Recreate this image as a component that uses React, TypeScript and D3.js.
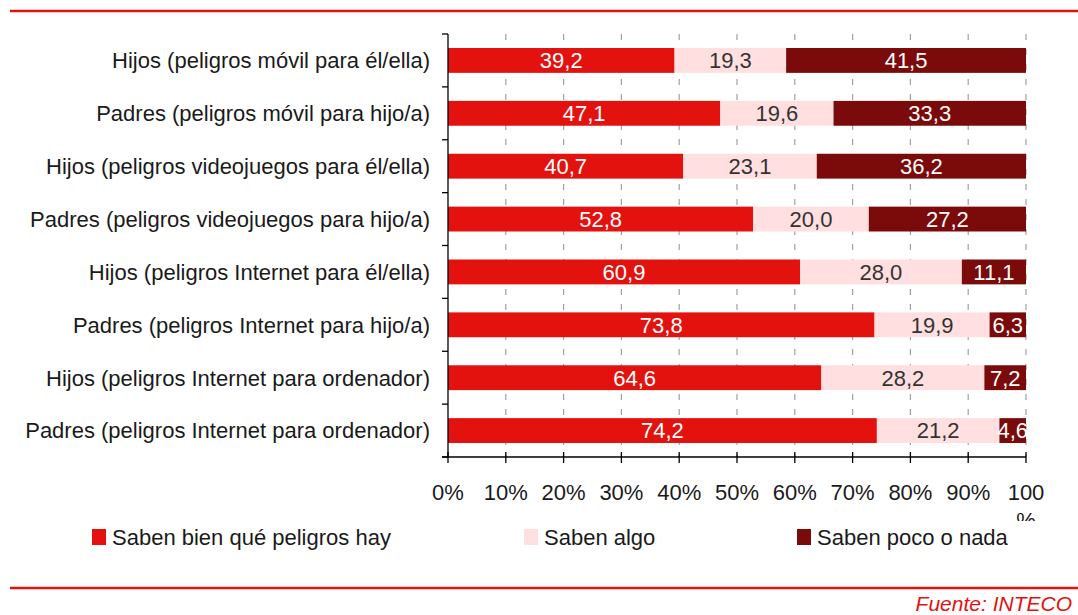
import React from "react";
import * as d3 from "d3";

const categories = [
  "Hijos (peligros móvil para él/ella)",
  "Padres (peligros móvil para hijo/a)",
  "Hijos (peligros videojuegos para él/ella)",
  "Padres (peligros videojuegos para hijo/a)",
  "Hijos (peligros Internet para él/ella)",
  "Padres (peligros Internet para hijo/a)",
  "Hijos (peligros Internet para ordenador)",
  "Padres (peligros Internet para ordenador)",
];
const seriesNames = ["Saben bien qué peligros hay", "Saben algo", "Saben poco o nada"];
const sabenBien = [39.2, 47.1, 40.7, 52.8, 60.9, 73.8, 64.6, 74.2];
const sabenAlgo = [19.3, 19.6, 23.1, 20.0, 28.0, 19.9, 28.2, 21.2];
const sabenPoco = [41.5, 33.3, 36.2, 27.2, 11.1, 6.3, 7.2, 4.6];
const xTicks = [0, 10, 20, 30, 40, 50, 60, 70, 80, 90, 100];

const colors = ["#e3120f", "#ffdfdf", "#7b0a0a"];
const labelColors = ["#ffffff", "#333333", "#ffffff"];
const FONT = "'Liberation Sans', Arial, sans-serif";

export default function App() {
  const W = 1078, H = 615;
  const x = d3.scaleLinear().domain([0, 100]).range([448, 1026]);
  const y = d3.scaleBand<string>().domain(categories).range([34, 457]).paddingInner(0.53).paddingOuter(0.265);
  const rows = categories.map((c, i) => ({ c, vals: [sabenBien[i], sabenAlgo[i], sabenPoco[i]] }));
  const stacked = rows.map((r) => {
    let acc = 0;
    return r.vals.map((v) => {
      const s = acc;
      acc += v;
      return { s, e: acc, v };
    });
  });
  const step = y.step();
  const bounds = d3.range(categories.length + 1).map((i) => 34 + i * step);
  const fmt = (v: number) => v.toFixed(1).replace(".", ",");
  const legendX = [92, 524, 797];

  return (
    <div style={{ position: "absolute", left: 0, top: 0 }}>
      <svg width={W} height={H} style={{ display: "block", fontFamily: FONT }}>
        <rect width={W} height={H} fill="#fff" />
        <line x1={10} x2={W} y1={11} y2={11} stroke="#e3120f" strokeWidth={2.5} />
        {/* gridlines */}
        {xTicks.slice(1).map((t) => (
          <line key={t} x1={x(t)} x2={x(t)} y1={34} y2={457} stroke="#a0a0a0" strokeWidth={1.2} strokeDasharray="6,9" />
        ))}
        {/* bars */}
        {rows.map((r, i) =>
          stacked[i].map((seg, j) => (
            <g key={i + "-" + j}>
              <rect x={x(seg.s)} y={y(r.c)} width={x(seg.e) - x(seg.s)} height={y.bandwidth()} fill={colors[j]} />
              <text
                x={(x(seg.s) + x(seg.e)) / 2}
                y={(y(r.c) as number) + y.bandwidth() / 2}
                dy="0.36em"
                textAnchor="middle"
                fontSize={22}
                fill={labelColors[j]}
              >
                {fmt(seg.v)}
              </text>
            </g>
          ))
        )}
        {/* y axis */}
        <line x1={448} x2={448} y1={34} y2={457} stroke="#000" strokeWidth={1.3} />
        {bounds.map((b, i) => (
          <line key={i} x1={442} x2={448} y1={b} y2={b} stroke="#000" strokeWidth={1.3} />
        ))}
        {categories.map((c) => (
          <text key={c} x={430} y={(y(c) as number) + y.bandwidth() / 2} dy="0.36em" textAnchor="end" fontSize={22} fill="#1a1a1a">
            {c}
          </text>
        ))}
        {/* x axis */}
        <line x1={442} x2={1026} y1={457} y2={457} stroke="#000" strokeWidth={1.3} />
        {xTicks.map((t) => (
          <line key={t} x1={x(t)} x2={x(t)} y1={452} y2={463} stroke="#000" strokeWidth={1.3} />
        ))}
        {xTicks.map((t) => (
          <text key={t} x={x(t)} y={500} textAnchor="middle" fontSize={22} fill="#1a1a1a">
            {t === 100 ? "100" : t + "%"}
          </text>
        ))}
        <clipPath id="pctclip">
          <rect x={1000} y={505} width={60} height={16} />
        </clipPath>
        <text x={x(100)} y={528} textAnchor="middle" fontSize={22} fill="#1a1a1a" clipPath="url(#pctclip)">
          %
        </text>
        {/* legend */}
        {seriesNames.map((s, i) => (
          <g key={s}>
            <rect x={legendX[i]} y={529} width={14} height={16} fill={colors[i]} />
            <text x={legendX[i] + 20} y={537} dy="0.36em" fontSize={22} fill="#1a1a1a">
              {s}
            </text>
          </g>
        ))}
        <line x1={10} x2={W} y1={588} y2={588} stroke="#e3120f" strokeWidth={2.5} />
        <text x={1072} y={611} textAnchor="end" fontSize={21} fontStyle="italic" fill="#e3120f">
          Fuente: INTECO
        </text>
      </svg>
    </div>
  );
}
